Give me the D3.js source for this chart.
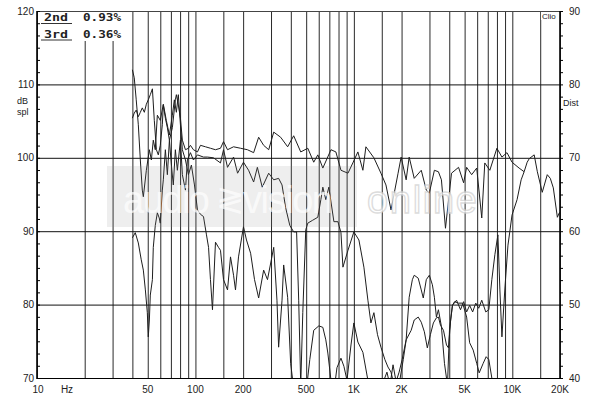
<!DOCTYPE html>
<html>
<head>
<meta charset="utf-8">
<script src="https://d3js.org/d3.v7.min.js"></script>
<style>
  body { margin: 0; background: #fff; }
  svg { display: block; }
  text { font-family: "Liberation Sans", sans-serif; fill: #222; }
</style>
</head>
<body>
<svg width="600" height="396"></svg>
<script>
// frequency response, [Hz, dB]
const responseCurve = [
  [40,105.4],[41.1,106.1],[42.3,106.5],[43.6,105.6],[44.9,106.2],[46.2,106.8],[47.6,106.2],[49,107.3],
  [50.4,107.9],[51.9,108.6],[53.5,109.4],[55,105.1],[56.7,101.1],[58.3,100.4],[60,101.7],[61.8,104.5],
  [62.7,107.2],[64.6,105.4],[66.5,104.1],[68.5,102.4],[71.5,104.1],[74.7,107.9],[75.8,108.6],[78,107.2],
  [80.4,105.4],[82.7,102.4],[86.5,101.1],[90.3,101.3],[93,101.7],[97.1,101.1],[103,100.8],[107.6,101.7],
  [115.7,101.5],[124.4,101.3],[133.8,101.1],[143.9,101.3],[150.4,102.2],[159.4,101.1],[174,101.5],
  [192.6,101.3],[213,101.1],[233,100.7],[250.6,102.8],[269.5,101.7],[290,101.1],[312,103.5],[345,102.8],
  [382,101.5],[417,103],[462,100.8],[512,101.3],[558,99.4],[592,100.4],[637,98.6],[717,101.1],[770,100.8],
  [829,98.3],[918,97.9],[985,99.3],[1060,100.8],[1140,98.3],[1191,101.5],[1338,100],[1482,97.9],
  [1594,96.3],[1716,92.9],[1901,97.9],[1988,100.1],[2138,97],[2234,100.1],[2404,97.2],[2663,98.3],
  [2865,95.6],[2994,95.2],[3222,98.3],[3417,98.1],[3570,97],[3786,90.4],[4133,97.9],[4579,98.7],
  [4928,96.6],[5149,98.7],[5540,97.7],[5961,98.6],[6415,91.8],[6704,99.3],[7213,98.3],[7993,101.3],
  [8601,100.1],[9255,100.7],[9960,99.4],[11037,98.6],[11876,98.1],[12409,99.4],[12810,99.9],[13742,100.4],
  [14390,98.1],[15455,95.3],[16621,97.7],[17371,97.2],[18150,95.9],[19248,91.9],[19800,92.5],[20000,92.5]
];

// 2nd harmonic, [Hz, dB]
const harmonic2Curve = [
  [40,112],[41.1,110.9],[42.3,107.9],[43.6,104.5],[44.9,99.7],[46.2,95.6],[46.9,94.7],[49,98.3],
  [51.2,101.1],[52.7,99.7],[54.2,102.4],[55.8,101.1],[57.5,105.8],[60,105.1],[62.7,107.3],[65.5,105.1],
  [68.5,103.1],[71.5,105.8],[73.6,107.9],[75.8,106.2],[78,108.6],[80.4,104.5],[82.7,101.1],[86.5,99.7],
  [90.3,97.7],[94.3,99],[98.6,96.3],[103,92.9],[107.6,92.3],[112.4,92],[117.4,89.5],[121,87.8],
  [124.4,83.4],[128.1,79.3],[133.8,88.5],[139.8,87.8],[143.9,87.4],[150.4,83.4],[159.4,82],[166.5,86.5],
  [174,84],[179,82],[187,86.5],[201,90.6],[210,88.8],[223,87],[236,83.4],[250.6,80.9],[269.5,84.7],
  [285,83.4],[312,87.8],[327,80.6],[335,74.2],[352,80.6],[360.5,85.4],[382,81],[399,72],[411,69.7],
  [435,67],[462,67],[497,67.7],[527,72.5],[558,76.5],[601,77.1],[637,76.9],[665,75.2],[685,73.4],
  [717,69.7],[748,68.1],[782,71.4],[829,72.7],[865,71.6],[905,69.7],[959,74.5],[1000,77.5],[1060,74.9],
  [1140,73.5],[1226,69.7],[1321,67.7],[1482,68.6],[1617,70.8],[1690,69],[1767,71.8],[1847,69.5],
  [1930,70.8],[2016,72.5],[2138,75.2],[2300,76.5],[2404,77.9],[2548,78.3],[2663,77.6],[2785,76.3],
  [2908,74.1],[3040,75.9],[3175,77.5],[3318,78.2],[3417,78.3],[3520,77.2],[3677,76.5],[3842,74.5],
  [3956,74.1],[4080,77.9],[4190,79.9],[4319,80.4],[4579,80.2],[4860,80.2],[5149,78.3],[5380,74.8],
  [5664,73.8],[5961,72],[6180,70.7],[6550,72],[6840,72.9],[7108,72.5],[7427,70],[7880,67]
];

// 3rd harmonic, [Hz, dB]
const harmonic3Curve = [
  [40,89.1],[41.7,89.8],[43.6,88.4],[45.5,86.1],[46.9,84.7],[48.3,82],[49.7,78.9],[50.4,75.6],
  [51.2,77.9],[51.9,81.3],[53.5,83.4],[54.2,87.8],[55.8,90.8],[57.5,92.5],[59.1,91.8],[60,91.1],
  [61.8,95.6],[62.7,97],[64.6,101.1],[66.5,97.7],[68.5,102.4],[70.5,99],[72.5,96.3],[74.7,101.1],
  [76.9,98.3],[80.4,102.4],[82.7,97.7],[86.5,95.6],[89,99.7],[93,100.7],[97.1,99.7],[103,100.4],
  [112.4,100.1],[119.1,100.1],[130,100],[143.9,99.3],[150.4,101.1],[159.4,98.7],[174,100.1],
  [184.5,97.9],[201,99.4],[216.5,98.3],[233,96.7],[246,98.7],[264,96],[290,97.9],[312,97],[335,97.2],
  [352,96.3],[371,93.2],[394,90.8],[417,89.9],[435,89.9],[448.5,80.6],[462,69],[476,78.9],[497,90.2],
  [512,91.1],[550,91.5],[592,91.9],[619,94.3],[637,96],[665,94.3],[695,96],[748,91.3],[793,91.3],
  [829,89.8],[853,85.1],[918,87.4],[1000,89.9],[1076,88.8],[1157,85.1],[1226,80.6],[1281,77.5],
  [1338,78.9],[1410,75.9],[1482,74.2],[1570,72.5],[1641,71.5],[1716,70.8],[1793,69],[1875,67.7],
  [1960,70],[2050,72.5],[2138,75.2],[2234,81],[2340,83.4],[2404,84],[2548,83.6],[2663,82],[2742,80.9],
  [2865,83.4],[2994,84],[3130,82.7],[3222,81],[3318,78.3],[3417,79.3],[3570,77],[3731,72],[3898,69],
  [4014,76.5],[4190,79.9],[4447,80.6],[4710,79.3],[4928,80.4],[5149,79],[5380,79.9],[5620,79],
  [5880,80.2],[6139,79.5],[6415,80.6],[6800,79],[7108,79.3],[7427,83.4],[7762,86.8],[8111,89.5],
  [8350,82],[8601,75.6],[8989,82.4],[9390,88.1],[9960,92.2],[10718,94.3],[11370,97],[11876,98.1]
];

const xGridValues = [20,30,40,50,60,70,80,90,100,150,200,300,400,500,600,700,800,900,
  1000,1500,2000,3000,4000,5000,6000,7000,8000,9000,10000,15000];
const xTickValues = [10,50,100,200,500,1000,2000,5000,10000,20000];
const xTickLabels = ["10","50","100","200","500","1K","2K","5K","10K","20K"];
const leftTicks = [70,80,90,100,110,120];
const rightTicks = [40,50,60,70,80,90];
const yGridValues = [80,90,100,110];
const legendRows = [{name: "2nd", value: "0.93%"}, {name: "3rd", value: "0.36%"}];

let svg = d3.select("svg");
const plotLeft = 37, plotRight = 560, plotTop = 11, plotBottom = 378;

let xScale = d3.scaleLog().domain([10, 20000]).range([plotLeft, plotRight]);
let yScale = d3.scaleLinear().domain([70, 120]).range([plotBottom, plotTop]);
let yRight = d3.scaleLinear().domain([40, 90]).range([plotBottom, plotTop]);

// vertical grid
svg.append("g")
  .attr("transform", `translate(0,${plotBottom})`)
  .call(d3.axisBottom(xScale).tickValues(xGridValues).tickSize(-(plotBottom - plotTop)).tickFormat(""))
  .call(g => g.select(".domain").remove())
  .selectAll("line").attr("stroke", "#2a2a2a");

// horizontal grid
svg.append("g")
  .attr("transform", `translate(${plotLeft},0)`)
  .call(d3.axisLeft(yScale).tickValues(yGridValues).tickSize(-(plotRight - plotLeft)).tickFormat(""))
  .call(g => g.select(".domain").remove())
  .selectAll("line").attr("stroke", "#111");

// legend box (covers grid)
svg.append("rect").attr("x", plotLeft + 1).attr("y", plotTop + 1)
  .attr("width", 90).attr("height", 29).attr("fill", "#fff");

legendRows.forEach((r, i) => {
  let yb = 21 + i * 16.5;
  svg.append("text").attr("x", 44).attr("y", yb).text(r.name)
    .style("font-family", "'DejaVu Sans Mono', monospace").style("font-weight", "bold")
    .style("font-size", "11px").attr("textLength", 24).attr("lengthAdjust", "spacingAndGlyphs");
  svg.append("line").attr("x1", 41).attr("x2", 72).attr("y1", yb + 2.5).attr("y2", yb + 2.5)
    .attr("stroke", "#333").attr("stroke-width", 1);
  svg.append("text").attr("x", 83).attr("y", yb).text(r.value)
    .style("font-family", "'DejaVu Sans Mono', monospace").style("font-weight", "bold")
    .style("font-size", "11px").attr("textLength", 38).attr("lengthAdjust", "spacingAndGlyphs");
});

// curves
svg.append("clipPath").attr("id", "plot")
  .append("rect").attr("x", plotLeft).attr("y", plotTop)
  .attr("width", plotRight - plotLeft).attr("height", plotBottom - plotTop);

let lineGen = d3.line()
  .x(d => xScale(d[0]))
  .y(d => yScale(d[1]));

[responseCurve, harmonic2Curve, harmonic3Curve].forEach(c => {
  svg.append("path")
    .datum(c)
    .attr("clip-path", "url(#plot)")
    .attr("fill", "none")
    .attr("stroke", "#1e1e1e")
    .attr("stroke-width", 1)
    .attr("d", lineGen);
});

// watermark
svg.append("rect").attr("x", 107).attr("y", 166).attr("width", 250).attr("height", 61)
  .attr("fill", "#888").attr("opacity", 0.14);
svg.append("text").attr("x", 123).attr("y", 213).text("audio")
  .attr("textLength", 87).style("font-size", "38px").style("fill", "#fff").attr("opacity", 0.7);
svg.append("text").attr("x", 216).attr("y", 211).text("≷")
  .attr("textLength", 24).style("font-size", "34px").style("fill", "#fff").attr("opacity", 0.7);
svg.append("text").attr("x", 243).attr("y", 213).text("vision")
  .attr("textLength", 90).style("font-size", "38px").style("fill", "#fff").attr("opacity", 0.7);
svg.append("text").attr("x", 367).attr("y", 213).text("online")
  .attr("textLength", 110).style("font-size", "38px").style("fill", "#fff")
  .style("stroke", "#d4d4d4").style("stroke-width", 1.3).attr("opacity", 0.8);

// frame
svg.append("rect").attr("x", plotLeft + 0.5).attr("y", plotTop + 0.5)
  .attr("width", plotRight - plotLeft).attr("height", plotBottom - plotTop)
  .attr("fill", "none").attr("stroke", "#444");
svg.append("line").attr("x1", plotLeft).attr("x2", plotLeft).attr("y1", plotTop).attr("y2", plotBottom + 1)
  .attr("stroke", "#000").attr("stroke-width", 1.6);
svg.append("line").attr("x1", plotRight).attr("x2", plotRight).attr("y1", plotTop).attr("y2", plotBottom + 1)
  .attr("stroke", "#000").attr("stroke-width", 1.6);
svg.append("line").attr("x1", plotLeft).attr("x2", plotRight).attr("y1", plotBottom + 0.5).attr("y2", plotBottom + 0.5)
  .attr("stroke", "#000").attr("stroke-width", 1.2);

// minor ticks
const leftMinor = d3.range(0, 31).map(i => 70 + i * 10 / 6);
const rightMinor = d3.range(0, 31).map(i => 40 + i * 10 / 6);
svg.append("g").attr("transform", `translate(${plotLeft},0)`)
  .call(d3.axisRight(yScale).tickValues(leftMinor).tickSize(3).tickFormat(""))
  .call(g => g.select(".domain").remove());
svg.append("g").attr("transform", `translate(${plotRight},0)`)
  .call(d3.axisRight(yRight).tickValues(rightMinor).tickSize(3).tickFormat(""))
  .call(g => g.select(".domain").remove());

// Clio label
svg.append("rect").attr("x", 541).attr("y", plotTop + 1).attr("width", 18).attr("height", 8).attr("fill", "#fff");
svg.append("text").attr("x", 542).attr("y", 19).text("Clio").style("font-size", "8px");

// left labels
svg.selectAll(".yl").data(leftTicks).join("text")
  .attr("x", 34).attr("y", d => yScale(d) + 3.5)
  .attr("text-anchor", "end").style("font-size", "10px").text(d => d);
svg.append("text").attr("x", 17).attr("y", 104).text("dB").style("font-size", "9px");
svg.append("text").attr("x", 17).attr("y", 115).text("spl").style("font-size", "9px");

// right labels
svg.selectAll(".yr").data(rightTicks).join("text")
  .attr("x", 569).attr("y", d => yRight(d) + 3.5)
  .style("font-size", "10px").text(d => d);
svg.append("text").attr("x", 563).attr("y", 106).text("Dist").style("font-size", "9px");

// bottom labels
svg.selectAll(".xl").data(xTickValues).join("text")
  .attr("x", d => xScale(d) + (d === 10 ? 1 : 0)).attr("y", 393)
  .attr("text-anchor", "middle").style("font-size", "10px")
  .text((d, i) => xTickLabels[i]);
svg.append("text").attr("x", 67).attr("y", 393).attr("text-anchor", "middle")
  .style("font-size", "10px").text("Hz");
</script>
</body>
</html>
